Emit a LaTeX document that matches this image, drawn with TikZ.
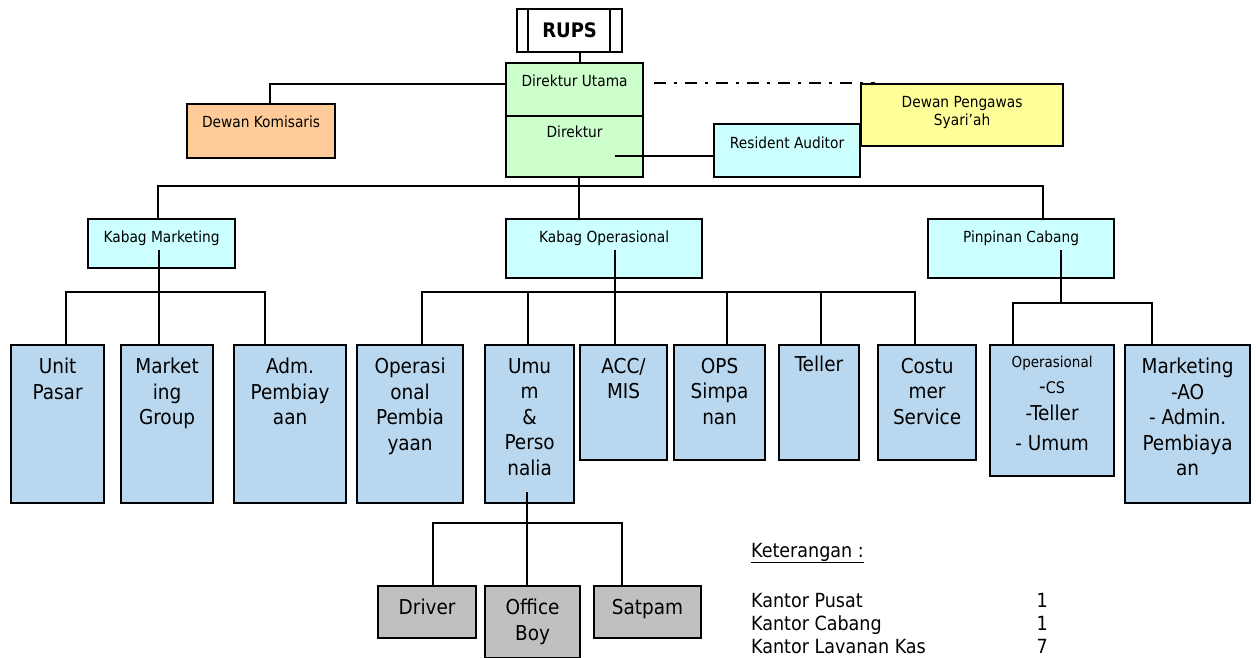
\documentclass[tikz,border=0pt]{standalone}
\usepackage{fontspec}
\setmainfont{DejaVu Sans Condensed}
\usetikzlibrary{positioning}

\definecolor{hijau}{HTML}{CCFFCC}
\definecolor{oranye}{HTML}{FFCC99}
\definecolor{kuning}{HTML}{FFFF99}
\definecolor{toska}{HTML}{CCFFFF}
\definecolor{biru}{HTML}{B9D8F0}
\definecolor{abu}{HTML}{C0C0C0}

\tikzset{
  kotak/.style={draw, line width=2.2pt, anchor=north west, inner sep=0pt},
  garis/.style={line width=2pt},
  titik/.style={line width=2pt, dash pattern=on 12pt off 8pt on 3pt off 8pt},
  besar/.style={inner sep=0pt, align=center, font=\fontsize{20.5}{25.5}\selectfont},
  kecil/.style={inner sep=0pt, align=center, font=\fontsize{15.3}{18}\selectfont},
  ket/.style={inner sep=0pt, font=\fontsize{19.5}{23}\selectfont}
}

\begin{document}
\begin{tikzpicture}[x=1pt, y=-1pt]
\useasboundingbox (0,0) rectangle (1256,658);

% pimpinan
\node[kotak, minimum width=105pt, minimum height=43pt] (rups) at (516,8) {};
\draw[line width=2pt] ([xshift=12pt]rups.north west) -- ([xshift=12pt]rups.south west);
\draw[line width=2pt] ([xshift=-13pt]rups.north east) -- ([xshift=-13pt]rups.south east);
\node[inner sep=0pt, font=\fontsize{20}{24}\selectfont\bfseries] (rupsT) at (rups.center) {RUPS};

\node[kotak, fill=hijau, minimum width=137pt, minimum height=53pt] (dirut) at (505,62) {};
\node[kecil, below=13pt of dirut.north] (dirutT) {Direktur Utama};
\node[kotak, fill=hijau, minimum width=137pt, minimum height=61pt] (dir) at (505,115) {};
\node[kecil, below=11pt of dir.north] (dirT) {Direktur};

\node[kotak, fill=oranye, minimum width=148pt, minimum height=54pt] (komisaris) at (186,103) {};
\node[kecil, below=13pt of komisaris.north] (komisarisT) {Dewan Komisaris};
\node[kotak, fill=kuning, minimum width=202pt, minimum height=62pt] (dps) at (860,83) {};
\node[kecil, below=13pt of dps.north] (dpsT) {Dewan Pengawas\\Syari'ah};
\node[kotak, fill=toska, minimum width=146pt, minimum height=53pt] (auditor) at (713,123) {};
\node[kecil, below=14pt of auditor.north] (auditorT) {Resident Auditor};

% kabag
\node[kotak, fill=toska, minimum width=147pt, minimum height=49pt] (kmkt) at (87,218) {};
\node[kecil, below=13pt of kmkt.north] (kmktT) {Kabag Marketing};
\node[kotak, fill=toska, minimum width=196pt, minimum height=59pt] (kops) at (505,218) {};
\node[kecil, below=13pt of kops.north] (kopsT) {Kabag Operasional};
\node[kotak, fill=toska, minimum width=186pt, minimum height=59pt] (pinca) at (927,218) {};
\node[kecil, below=13pt of pinca.north] (pincaT) {Pinpinan Cabang};

% unit
\node[kotak, fill=biru, minimum width=93pt, minimum height=158pt] (unit) at (10,344) {};
\node[besar, below=14pt of unit.north] (unitT) {Unit\\Pasar};
\node[kotak, fill=biru, minimum width=92pt, minimum height=158pt] (mktg) at (120,344) {};
\node[besar, below=14pt of mktg.north] (mktgT) {Market\\ing\\Group};
\node[kotak, fill=biru, minimum width=112pt, minimum height=158pt] (adm) at (233,344) {};
\node[besar, below=14pt of adm.north] (admT) {Adm.\\Pembiay\\aan};
\node[kotak, fill=biru, minimum width=106pt, minimum height=158pt] (opsp) at (356,344) {};
\node[besar, below=14pt of opsp.north] (opspT) {Operasi\\onal\\Pembia\\yaan};
\node[kotak, fill=biru, minimum width=89pt, minimum height=158pt] (umum) at (484,344) {};
\node[besar, below=14pt of umum.north] (umumT) {Umu\\m\\\&\\Perso\\nalia};
\node[kotak, fill=biru, minimum width=87pt, minimum height=115pt] (acc) at (579,344) {};
\node[besar, below=14pt of acc.north] (accT) {ACC/\\MIS};
\node[kotak, fill=biru, minimum width=91pt, minimum height=115pt] (ops) at (673,344) {};
\node[besar, below=14pt of ops.north] (opsT) {OPS\\Simpa\\nan};
\node[kotak, fill=biru, minimum width=80pt, minimum height=115pt] (teller) at (778,344) {};
\node[besar, below=12pt of teller.north] (tellerT) {Teller};
\node[kotak, fill=biru, minimum width=98pt, minimum height=115pt] (cs) at (877,344) {};
\node[besar, below=14pt of cs.north] (csT) {Costu\\mer\\Service};
\node[kotak, fill=biru, minimum width=124pt, minimum height=131pt] (opcab) at (989,344) {};
\node[besar, below=12pt of opcab.north] (opcabT) {{\fontsize{15}{18}\selectfont Operasional}\\-{\fontsize{16}{18}\selectfont CS}\\[2pt]-Teller\\[4pt]- Umum};
\node[kotak, fill=biru, minimum width=125pt, minimum height=158pt] (mktcab) at (1124,344) {};
\node[besar, below=14pt of mktcab.north] (mktcabT) {Marketing\\-AO\\- Admin.\\Pembiaya\\an};

% umum & personalia
\node[kotak, fill=abu, minimum width=98pt, minimum height=52pt] (driver) at (377,585) {};
\node[besar, below=14pt of driver.north] (driverT) {Driver};
\node[kotak, fill=abu, minimum width=95pt, minimum height=72pt] (boy) at (484,585) {};
\node[besar, below=14pt of boy.north] (boyT) {Office\\Boy};
\node[kotak, fill=abu, minimum width=107pt, minimum height=52pt] (satpam) at (593,585) {};
\node[besar, below=14pt of satpam.north] (satpamT) {Satpam};

% titik sambung
\coordinate (atas) at (579,186);
\coordinate (dirIn) at (615,156);
\coordinate (mkIn) at (159,250);
\coordinate (busMk) at (159,292);
\coordinate (opIn) at (615,250);
\coordinate (busOp) at (615,292);
\coordinate (cbIn) at (1061,250);
\coordinate (busCb) at (1061,303);
\coordinate (umIn) at (527,492);
\coordinate (busUm) at (527,523);

% garis
\draw[garis] ([xshift=10.5pt]rups.south) -- ([xshift=10.5pt]rups.south |- dirut.north);
\draw[garis] ([yshift=5.5pt]dirut.west) -| ([xshift=9pt]komisaris.north);
\draw[titik] ([xshift=10pt]dirut.east |- dps.north) -- ([xshift=15pt]dps.north west);
\draw[garis] (dirIn) -- (dirIn -| auditor.west);
\draw[garis] (atas |- dir.south) -- (atas) -- (atas |- kops.north);
\draw[garis] ([xshift=-3.5pt]kmkt.north) |- (atas) -| ([xshift=22pt]pinca.north);

\draw[garis] (mkIn) -- (mkIn |- mktg.north);
\draw[garis] ([xshift=8.5pt]unit.north) |- (busMk) -| ([xshift=-25pt]adm.north);

\draw[garis] (opIn) -- (opIn |- acc.north);
\draw[garis] ([xshift=12pt]opsp.north) |- (busOp) -| ([xshift=-12pt]cs.north);
\draw[garis] ([xshift=-1.5pt]umum.north) -- ([xshift=-1.5pt]umum.north |- busOp);
\draw[garis] ([xshift=7.5pt]ops.north) -- ([xshift=7.5pt]ops.north |- busOp);
\draw[garis] ([xshift=2pt]teller.north) -- ([xshift=2pt]teller.north |- busOp);

\draw[garis] (cbIn) -- (busCb);
\draw[garis] ([xshift=-39pt]opcab.north) |- (busCb) -| ([xshift=-35.5pt]mktcab.north);

\draw[garis] (umIn) -- (umIn |- boy.north);
\draw[garis] ([xshift=6pt]driver.north) |- (busUm) -| ([xshift=-25.5pt]satpam.north);

% keterangan
\node[ket, anchor=base west] (ketT) at (751,557) {\underline{Keterangan :}};
\node[ket, anchor=base west] (pusat) at (751,607) {Kantor Pusat};
\node[ket, anchor=base west] (cabang) at (751,630) {Kantor Cabang};
\node[ket, anchor=base west] (kas) at (751,653) {Kantor Lavanan Kas};
\node[ket, anchor=base east] (nPusat) at (1048,607) {1};
\node[ket, anchor=base east] (nCabang) at (1048,630) {1};
\node[ket, anchor=base east] (nKas) at (1048,653) {7};
\end{tikzpicture}
\end{document}
